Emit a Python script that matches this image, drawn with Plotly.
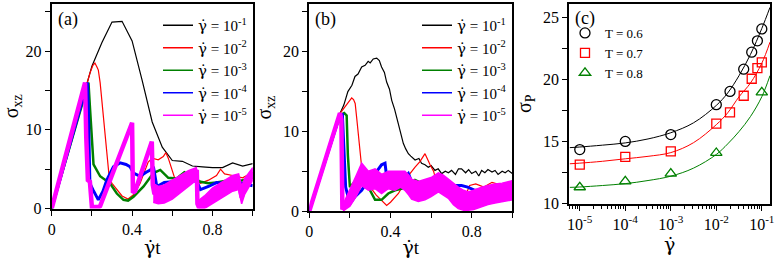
import plotly.graph_objects as go

# ---------------- data: panel (a) ----------------
a_x_black = [0, 0.05, 0.10, 0.15, 0.20, 0.25, 0.30, 0.35, 0.40, 0.45, 0.50, 0.55, 0.60, 0.65, 0.70, 0.75, 0.80, 0.85, 0.90, 0.95, 1.00]
a_y_black = [0, 4.5, 9.0, 13.6, 18.1, 21.1, 23.7, 23.8, 21.3, 16.3, 11.0, 7.8, 6.1, 6.0, 5.4, 5.3, 5.2, 5.2, 5.8, 5.4, 5.7]

a_x_red = [0, 0.05, 0.10, 0.15, 0.19, 0.205, 0.215, 0.225, 0.232, 0.241, 0.257, 0.274, 0.287, 0.30, 0.32, 0.35, 0.38, 0.41, 0.44, 0.46, 0.48, 0.50, 0.53, 0.555, 0.568, 0.58, 0.595, 0.61, 0.63, 0.66, 0.70, 0.74, 0.78, 0.82, 0.84, 0.86, 0.90, 0.95, 1.0]
a_y_red = [0, 4.5, 9.0, 13.6, 17.2, 18.2, 18.5, 18.0, 17.6, 16.0, 11.8, 6.7, 3.7, 3.2, 2.6, 1.6, 1.2, 1.8, 3.2, 4.6, 5.9, 6.4, 6.2, 6.6, 7.1, 6.4, 5.2, 4.0, 3.5, 3.8, 3.9, 3.2, 3.6, 4.2, 5.0, 4.4, 4.2, 3.9, 4.6]

a_x_green = [0, 0.05, 0.10, 0.15, 0.183, 0.19, 0.208, 0.241, 0.29, 0.324, 0.357, 0.38, 0.407, 0.457, 0.506, 0.54, 0.58, 0.62, 0.66, 0.70, 0.74, 0.78, 0.82, 0.86, 0.90, 0.95, 1.0]
a_y_green = [0, 4.4, 8.8, 13.2, 16.0, 13.0, 5.6, 4.1, 3.2, 1.9, 1.1, 1.0, 1.5, 2.8, 4.5, 4.9, 3.9, 3.8, 4.6, 4.0, 3.4, 3.2, 3.3, 3.5, 3.4, 3.6, 3.9]

a_x_blue = [0, 0.05, 0.10, 0.15, 0.178, 0.183, 0.19, 0.205, 0.232, 0.255, 0.274, 0.307, 0.34, 0.37, 0.39, 0.407, 0.44, 0.47, 0.49, 0.506, 0.515, 0.523, 0.56, 0.60, 0.65, 0.70, 0.72, 0.74, 0.78, 0.82, 0.86, 0.88, 0.90, 0.95, 1.0]
a_y_blue = [0, 4.5, 9.0, 13.5, 16.0, 12.0, 3.2, 2.4, 1.1, 2.2, 3.6, 5.3, 5.8, 5.6, 5.3, 4.5, 4.1, 4.6, 4.9, 5.3, 4.0, 2.8, 3.3, 3.4, 3.3, 3.4, 3.6, 2.4, 2.8, 3.3, 3.2, 2.2, 3.3, 3.2, 2.9]

a_x_mag = [0, 0.166, 0.172, 0.18, 0.19, 0.195, 0.20, 0.235, 0.241, 0.40, 0.404, 0.415, 0.498, 0.503, 0.51, 0.55, 0.60, 0.65, 0.70, 0.722, 0.725, 0.73, 0.76, 0.80, 0.85, 0.90, 0.93, 0.945, 0.96, 1.0]
a_y_mag = [0, 16.0, 9.0, 3.6, 3.4, 0.5, 0.2, 0.2, 0.3, 10.9, 2.0, 2.2, 8.5, 3.0, 2.0, 1.6, 2.4, 3.2, 4.2, 4.9, 0.6, 0.3, 0.6, 1.6, 2.4, 3.2, 3.4, 1.4, 2.8, 4.6]
# noise band (lower / upper envelope) of the magenta curve where it fluctuates strongly
a_band_x = [[0.505, 0.53, 0.56, 0.60, 0.64, 0.68, 0.72],
            [0.73, 0.76, 0.80, 0.85, 0.90, 0.93, 0.945, 0.96, 1.0]]
a_band_lo = [[0.8, 0.6, 0.7, 1.2, 2.0, 2.8, 3.6],
             [0.0, 0.0, 0.6, 1.4, 2.2, 2.4, 0.6, 1.8, 3.6]]
a_band_hi = [[3.2, 2.8, 3.0, 3.6, 4.2, 4.8, 5.2],
             [1.0, 1.6, 2.6, 3.4, 4.2, 4.4, 2.8, 3.8, 5.2]]

# ---------------- data: panel (b) ----------------
b_x_black = [0, 0.05, 0.10, 0.15, 0.17, 0.19, 0.21, 0.225, 0.24, 0.258, 0.275, 0.29, 0.30, 0.315, 0.332, 0.345, 0.356, 0.37, 0.381, 0.395,
             0.406, 0.42, 0.438, 0.45, 0.463, 0.475, 0.488, 0.50, 0.521, 0.54, 0.553, 0.57, 0.586, 0.60, 0.619, 0.635, 0.652, 0.67, 0.685, 0.701,
             0.72, 0.735, 0.75, 0.77, 0.785, 0.80, 0.82, 0.835, 0.849, 0.865, 0.88, 0.9, 0.915, 0.93, 0.95, 0.965, 0.98, 1.0]
b_y_black = [0, 4.1, 8.2, 12.2, 13.3, 15.0, 15.8, 16.9, 17.2, 18.1, 18.3, 18.8, 18.6, 19.1, 19.2, 18.9, 18.1, 17.4, 16.2, 15.3,
             13.9, 12.8, 11.0, 9.9, 8.5, 7.8, 7.2, 6.9, 6.4, 6.6, 6.0, 5.8, 5.5, 5.7, 5.1, 5.3, 4.7, 5.0, 4.8, 5.1,
             4.6, 5.3, 5.3, 4.8, 5.2, 4.7, 5.0, 4.4, 5.1, 4.8, 5.2, 4.9, 5.1, 4.6, 5.0, 4.8, 5.1, 4.7]

b_x_red = [0, 0.05, 0.10, 0.15, 0.17, 0.19, 0.20, 0.209, 0.218, 0.226, 0.233, 0.25, 0.258, 0.274, 0.30, 0.33, 0.36, 0.381, 0.40, 0.439, 0.47, 0.496, 0.521, 0.545, 0.57, 0.583, 0.595, 0.612, 0.628, 0.66, 0.70, 0.74, 0.767, 0.79, 0.82, 0.86, 0.90, 0.94, 0.97, 1.0]
b_y_red = [0, 4.1, 8.2, 12.2, 12.9, 13.6, 13.9, 14.2, 14.0, 13.5, 11.8, 7.6, 5.5, 3.7, 3.0, 2.0, 1.2, 0.7, 1.1, 2.2, 3.6, 4.7, 5.5, 6.2, 7.2, 6.4, 5.8, 5.0, 3.5, 2.8, 2.4, 2.2, 1.8, 3.2, 3.4, 3.0, 3.6, 3.3, 3.0, 3.7]

b_x_green = [0, 0.05, 0.10, 0.15, 0.172, 0.184, 0.19, 0.2, 0.225, 0.258, 0.291, 0.324, 0.356, 0.389, 0.422, 0.455, 0.488, 0.521, 0.553, 0.586, 0.619, 0.652, 0.685, 0.72, 0.75, 0.78, 0.816, 0.85, 0.882, 0.92, 0.96, 1.0]
b_y_green = [0, 4.0, 8.0, 12.0, 12.3, 12.0, 7.0, 3.0, 3.7, 3.9, 3.0, 1.4, 1.4, 2.2, 2.6, 2.8, 3.0, 3.9, 3.5, 3.2, 3.0, 2.6, 2.2, 2.0, 1.8, 2.0, 2.2, 2.4, 2.6, 2.9, 3.3, 3.7]

b_x_blue = [0, 0.05, 0.10, 0.15, 0.163, 0.172, 0.179, 0.2, 0.225, 0.258, 0.291, 0.324, 0.356, 0.373, 0.381, 0.40, 0.422, 0.455, 0.488, 0.504, 0.553, 0.586, 0.619, 0.652, 0.685, 0.72, 0.75, 0.78, 0.816, 0.85, 0.882, 0.93, 0.98, 1.0]
b_y_blue = [0, 4.0, 8.0, 12.0, 12.1, 7.0, 3.0, 0.9, 1.8, 2.6, 3.9, 4.7, 5.8, 6.0, 4.3, 3.4, 3.0, 3.8, 4.7, 3.7, 3.0, 2.8, 2.6, 2.8, 3.0, 3.2, 3.2, 3.0, 2.6, 2.6, 2.6, 2.8, 3.0, 3.1]

b_x_mag = [0, 0.151, 0.158, 0.163, 0.168]
b_y_mag = [0, 12.3, 11.5, 0.2, 0.4]
b_band_x = [[0.166, 0.20, 0.23, 0.258, 0.291, 0.324, 0.356, 0.389, 0.422, 0.45, 0.471, 0.49, 0.504, 0.537, 0.57, 0.60,
             0.636, 0.66, 0.685, 0.71, 0.734, 0.76, 0.783, 0.81, 0.849, 0.88, 0.915, 0.95, 1.0]]
b_band_lo = [[0.0, 0.6, 1.8, 3.2, 2.6, 2.8, 2.2, 2.8, 2.6, 3.0, 2.6, 2.0, 1.5, 1.2, 1.4, 1.8,
              2.4, 2.0, 1.6, 0.8, 0.3, 0.1, 0.1, 0.2, 0.5, 0.8, 1.0, 1.2, 1.4]]
b_band_hi = [[0.8, 2.6, 4.4, 6.0, 5.0, 5.3, 4.6, 5.0, 5.0, 5.0, 5.0, 4.5, 4.0, 3.7, 4.0, 4.2,
              4.8, 4.5, 4.0, 3.5, 3.0, 2.6, 2.4, 2.6, 3.0, 3.2, 3.4, 3.5, 3.8]]

rate_values = ["-1", "-2", "-3", "-4", "-5"]

# ---------------- data: panel (c) ----------------
c_rate_06 = [1e-5, 1e-4, 1e-3, 1e-2, 2e-2, 4e-2, 6e-2, 8e-2, 1e-1]
c_sig_06 = [14.34, 15.0, 15.55, 17.96, 19.03, 20.82, 22.19, 23.1, 24.06]
c_rate_07 = [1e-5, 1e-4, 1e-3, 1e-2, 2e-2, 4e-2, 6e-2, 8e-2, 1e-1]
c_sig_07 = [13.13, 13.75, 14.2, 16.43, 17.34, 18.68, 20.05, 20.9, 21.36]
c_rate_08 = [1e-5, 1e-4, 1e-3, 1e-2, 1e-1]
c_sig_08 = [11.31, 11.79, 12.41, 14.07, 18.95]

fit_log_rate = [-5.22, -5.0, -4.5, -4.0, -3.5, -3.0, -2.5, -2.0, -1.75, -1.5, -1.25, -1.0, -0.82]
fit_06 = [14.5, 14.55, 14.7, 14.88, 15.2, 15.7, 16.5, 17.9, 18.9, 20.3, 22.0, 24.1, 25.8]
fit_07 = [13.2, 13.25, 13.4, 13.6, 13.8, 14.1, 14.9, 16.35, 17.3, 18.6, 19.7, 21.3, 23.0]
fit_08 = [11.3, 11.33, 11.45, 11.6, 11.85, 12.2, 12.85, 13.95, 14.8, 15.8, 17.0, 18.6, 20.3]
temp_labels = ["T = 0.6", "T = 0.7", "T = 0.8"]
c_tick_vals = [1e-5, 1e-4, 1e-3, 1e-2, 1e-1]
c_tick_text = ["10<sup>-5</sup>", "10<sup>-4</sup>", "10<sup>-3</sup>", "10<sup>-2</sup>", "10<sup>-1</sup>"]

# ---------------- figure ----------------
FONT = "Liberation Serif"
GDOT = '<span style="font-family:DejaVu Serif">γ̇</span>'
rate_labels = [GDOT + " = 10<sup>" + v + "</sup>" for v in rate_values]
colors = ["#000000", "#ff0000", "#008000", "#0000ff", "#ff00ff"]
W, H = 776, 258

fig = go.Figure()


def band_polygon(xs_list, lo_list, hi_list):
    px, py = [], []
    for xs, lo, hi in zip(xs_list, lo_list, hi_list):
        px += list(xs) + list(xs[::-1]) + [None]
        py += list(hi) + list(lo[::-1]) + [None]
    return px, py


def add_panel(series, widths, band, xa, ya, legend):
    for (xs, ys), col, w in zip(series, colors, widths):
        fig.add_trace(go.Scatter(x=xs, y=ys, mode="lines", line=dict(color=col, width=w),
                                 showlegend=False, xaxis=xa, yaxis=ya, hoverinfo="skip"))
    bx, by = band_polygon(*band)
    fig.add_trace(go.Scatter(x=bx, y=by, mode="lines", fill="toself", fillcolor=colors[4],
                             line=dict(color=colors[4], width=1.5), showlegend=False,
                             xaxis=xa, yaxis=ya, hoverinfo="skip"))
    for col, lab in zip(colors, rate_labels):
        fig.add_trace(go.Scatter(x=[None], y=[None], mode="lines", line=dict(color=col, width=1.5),
                                 name=lab, legend=legend, xaxis=xa, yaxis=ya))


add_panel([(a_x_black, a_y_black), (a_x_red, a_y_red), (a_x_green, a_y_green),
           (a_x_blue, a_y_blue), (a_x_mag, a_y_mag)],
          [1.2, 1.2, 2.5, 3.0, 4.5], (a_band_x, a_band_lo, a_band_hi), "x", "y", "legend")
add_panel([(b_x_black, b_y_black), (b_x_red, b_y_red), (b_x_green, b_y_green),
           (b_x_blue, b_y_blue), (b_x_mag, b_y_mag)],
          [1.2, 1.2, 2.5, 3.0, 4.5], (b_band_x, b_band_lo, b_band_hi), "x2", "y2", "legend2")

fit_rate = [10 ** v for v in fit_log_rate]
for fy, col in zip([fit_06, fit_07, fit_08], colors[:3]):
    fig.add_trace(go.Scatter(x=fit_rate, y=fy, mode="lines", line=dict(color=col, width=1, shape="spline"),
                             showlegend=False, xaxis="x3", yaxis="y3"))
for xs, ys, col, sym, sz, lab in zip([c_rate_06, c_rate_07, c_rate_08], [c_sig_06, c_sig_07, c_sig_08],
                                     colors[:3], ["circle-open", "square-open", "triangle-up-open"],
                                     [10, 9, 10], temp_labels):
    fig.add_trace(go.Scatter(x=xs, y=ys, mode="markers",
                             marker=dict(symbol=sym, size=sz, color=col, line=dict(width=1.3, color=col)),
                             name=lab, legend="legend3", xaxis="x3", yaxis="y3"))


def px_x(p):
    return p / W


def px_y(p):
    return 1 - p / H


axis_common = dict(showline=True, linecolor="black", linewidth=2, mirror=True, ticks="outside",
                   ticklen=5, tickwidth=1, tickcolor="black", showgrid=False, zeroline=False,
                   automargin=False, tickfont=dict(family=FONT, size=16, color="black"))
minor_lin = dict(ticks="outside", ticklen=5, tickcolor="black", showgrid=False)

fig.update_layout(
    width=W, height=H, margin=dict(l=0, r=0, t=0, b=0),
    paper_bgcolor="white", plot_bgcolor="white",
    font=dict(family=FONT, color="black"),
    xaxis=dict(domain=[px_x(51.7), px_x(252.7)], range=[0, 1], dtick=0.4, tick0=0,
               minor=dict(dtick=0.2, **minor_lin),
               anchor="y", title=dict(text=GDOT + "t", font=dict(size=19), standoff=4), **axis_common),
    yaxis=dict(domain=[px_y(208.5), px_y(4)], range=[0, 26], dtick=10, tick0=0,
               minor=dict(dtick=5, **minor_lin),
               anchor="x", title=dict(text="σ<sub>xz</sub>", font=dict(size=20), standoff=6), **axis_common),
    xaxis2=dict(domain=[px_x(309.3), px_x(512.3)], range=[0, 1], dtick=0.4, tick0=0,
                minor=dict(dtick=0.2, **minor_lin),
                anchor="y2", title=dict(text=GDOT + "t", font=dict(size=19), standoff=4), **axis_common),
    yaxis2=dict(domain=[px_y(211), px_y(4)], range=[0, 26], dtick=10, tick0=0,
                minor=dict(dtick=5, **minor_lin),
                anchor="x2", title=dict(text="σ<sub>xz</sub>", font=dict(size=20), standoff=6), **axis_common),
    xaxis3=dict(domain=[px_x(569.3), px_x(770)], type="log", range=[-5.23, -0.82],
                tickvals=c_tick_vals, ticktext=c_tick_text,
                minor=dict(dtick="D1", ticks="outside", ticklen=3, tickcolor="black", showgrid=False),
                anchor="y3", title=dict(text=GDOT, font=dict(size=19), standoff=2), **axis_common),
    yaxis3=dict(domain=[px_y(203.5), px_y(4)], range=[10, 26.07], dtick=5, tick0=0,
                minor=dict(dtick=2.5, **minor_lin),
                anchor="x3", title=dict(text="σ<sub>P</sub>", font=dict(size=20), standoff=6), **axis_common),
    legend=dict(x=px_x(253), y=px_y(9), xanchor="right", yanchor="top", bgcolor="rgba(0,0,0,0)",
                font=dict(family=FONT, size=15), itemwidth=30, tracegroupgap=0),
    legend2=dict(x=px_x(512), y=px_y(9), xanchor="right", yanchor="top", bgcolor="rgba(0,0,0,0)",
                 font=dict(family=FONT, size=15), itemwidth=30, tracegroupgap=0),
    legend3=dict(x=px_x(565), y=px_y(18), xanchor="left", yanchor="top", bgcolor="rgba(0,0,0,0)",
                 font=dict(family=FONT, size=13), itemwidth=30, tracegroupgap=0),
    annotations=[
        dict(text="(a)", xref="x domain", yref="y domain", x=0.02, y=0.985, xanchor="left", yanchor="top",
             showarrow=False, font=dict(family=FONT, size=18)),
        dict(text="(b)", xref="x2 domain", yref="y2 domain", x=0.02, y=0.985, xanchor="left", yanchor="top",
             showarrow=False, font=dict(family=FONT, size=18)),
        dict(text="(c)", xref="x3 domain", yref="y3 domain", x=0.02, y=0.99, xanchor="left", yanchor="top",
             showarrow=False, font=dict(family=FONT, size=18)),
    ],
)

fig.write_html("out.html", config={"displayModeBar": False},
               post_script="document.body.style.margin='0';document.body.style.overflow='hidden';")
